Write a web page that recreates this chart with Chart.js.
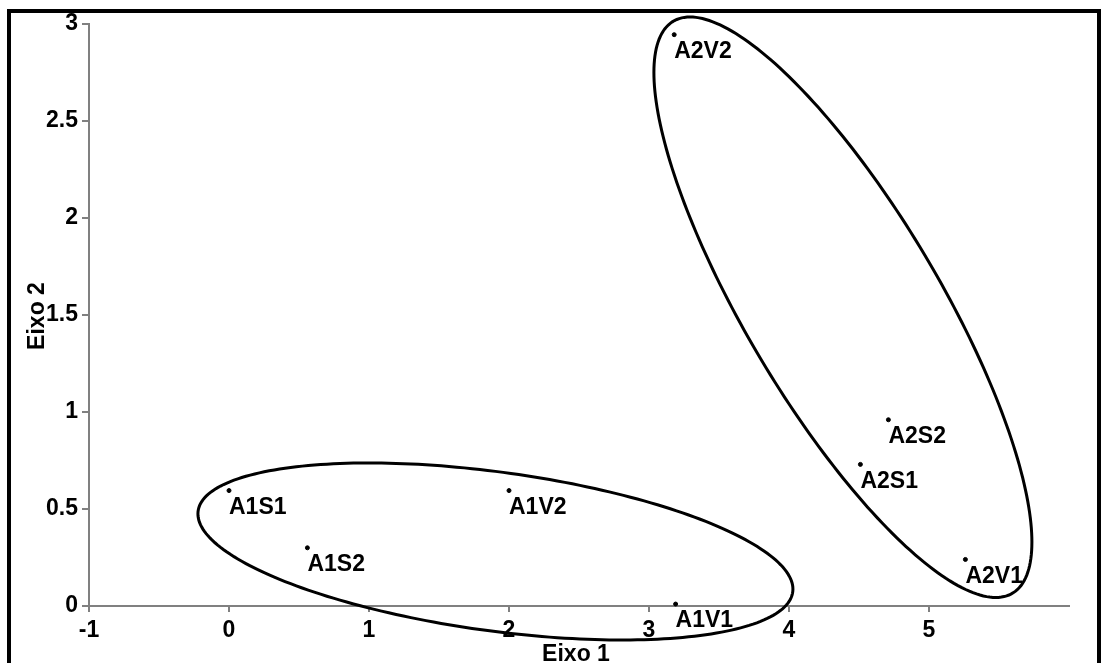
<!DOCTYPE html>
<html>
<head>
<meta charset="utf-8">
<script src="https://cdn.jsdelivr.net/npm/chart.js@4.4.0/dist/chart.umd.min.js"></script>
<style>
html, body { margin: 0; padding: 0; background: #fff; overflow: hidden; }
#wrap { position: relative; width: 1104px; height: 663px; }
#pcaChart { position: absolute; left: 0; top: 0; }
#frame { position: absolute; left: 7px; top: 9px; width: 1086px; height: 700px; border: 4px solid #000; pointer-events: none; }
</style>
</head>
<body>
<div id="wrap">
    <canvas id="pcaChart" width="1104" height="663"></canvas>
    <div id="frame"></div>
</div>
<script>
// pontos (escores nos eixos 1 e 2)
var pointLabels = ['A1S1', 'A1S2', 'A1V2', 'A1V1', 'A2V2', 'A2S2', 'A2S1', 'A2V1'];
var eixo1 = [0.0, 0.56, 2.0, 3.19, 3.18, 4.71, 4.51, 5.26];
var eixo2 = [0.595, 0.30, 0.595, 0.01, 2.945, 0.96, 0.73, 0.24];

// ticks dos eixos
var xTicks = [-1, 0, 1, 2, 3, 4, 5];
var yTicks = [0, 0.5, 1, 1.5, 2, 2.5, 3];

// elipses dos grupos: centro e semi-eixos conjugados (em unidades dos eixos)
var ellipseCenterX = [1.903, 4.385];
var ellipseCenterY = [0.281, 1.54];
var ellipseAxisU = [[2.125, -0.194], [1.35, -1.21]];
var ellipseAxisV = [[0.0, -0.413], [0.0, -0.88]];

var fontFamily = '"Liberation Sans", Arial, sans-serif';
var labelFont = 'bold 23px ' + fontFamily;

var groupPlugin = {
    id: 'groups',
    afterDatasetsDraw: function (chart) {
        var ctx = chart.ctx;
        var xs = chart.scales.x, ys = chart.scales.y;
        ctx.save();

        // elipses
        ctx.strokeStyle = '#000';
        ctx.lineWidth = 3;
        for (var e = 0; e < ellipseCenterX.length; e++) {
            ctx.beginPath();
            for (var i = 0; i <= 240; i++) {
                var t = i / 240 * 2 * Math.PI;
                var vx = ellipseCenterX[e] + ellipseAxisU[e][0] * Math.cos(t) + ellipseAxisV[e][0] * Math.sin(t);
                var vy = ellipseCenterY[e] + ellipseAxisU[e][1] * Math.cos(t) + ellipseAxisV[e][1] * Math.sin(t);
                var px = xs.getPixelForValue(vx), py = ys.getPixelForValue(vy);
                if (i === 0) ctx.moveTo(px, py); else ctx.lineTo(px, py);
            }
            ctx.closePath();
            ctx.stroke();
        }

        // rotulos dos pontos
        ctx.fillStyle = '#000';
        ctx.font = labelFont;
        ctx.textAlign = 'left';
        ctx.textBaseline = 'middle';
        var meta = chart.getDatasetMeta(0);
        meta.data.forEach(function (pt, i) {
            ctx.fillText(pointLabels[i], pt.x, pt.y + 17);
        });

        // titulos dos eixos
        ctx.textAlign = 'center';
        ctx.fillText('Eixo 1', 576, 655);
        ctx.translate(38, 316);
        ctx.rotate(-Math.PI / 2);
        ctx.fillText('Eixo 2', 0, 0);
        ctx.restore();
    }
};

var ctx = document.getElementById('pcaChart').getContext('2d');

var pcaChart = new Chart(ctx, {
    type: 'scatter',
    data: {
        datasets: [{
            data: eixo1.map(function (v, i) { return { x: v, y: eixo2[i] }; }),
            backgroundColor: '#000',
            borderColor: '#000',
            pointRadius: 2,
            pointHoverRadius: 2,
            clip: false
        }]
    },
    options: {
        responsive: false,
        animation: false,
        events: [],
        layout: { padding: { top: 24, right: 35, left: 0, bottom: 0 } },
        plugins: {
            legend: { display: false },
            tooltip: { enabled: false }
        },
        scales: {
            x: {
                type: 'linear',
                min: -1,
                max: 6,
                afterBuildTicks: function (s) { s.ticks = xTicks.map(function (v) { return { value: v }; }); },
                afterFit: function (s) { s.height = 57; },
                border: { color: '#808080', width: 2 },
                grid: { drawOnChartArea: false, color: '#808080', lineWidth: 2, tickLength: 6 },
                ticks: {
                    color: '#000',
                    font: { family: fontFamily, size: 23, weight: 'bold' },
                    padding: 5,
                    maxRotation: 0,
                    autoSkip: false,
                    callback: function (v) { return String(v); }
                }
            },
            y: {
                type: 'linear',
                min: 0,
                max: 3,
                afterBuildTicks: function (s) { s.ticks = yTicks.map(function (v) { return { value: v }; }); },
                afterFit: function (s) { s.width = 89; },
                border: { color: '#808080', width: 2 },
                grid: { drawOnChartArea: false, color: '#808080', lineWidth: 2, tickLength: 7 },
                ticks: {
                    color: '#000',
                    font: { family: fontFamily, size: 23, weight: 'bold' },
                    padding: 4,
                    autoSkip: false,
                    callback: function (v) { return String(v); }
                }
            }
        }
    },
    plugins: [groupPlugin]
});
</script>
</body>
</html>
